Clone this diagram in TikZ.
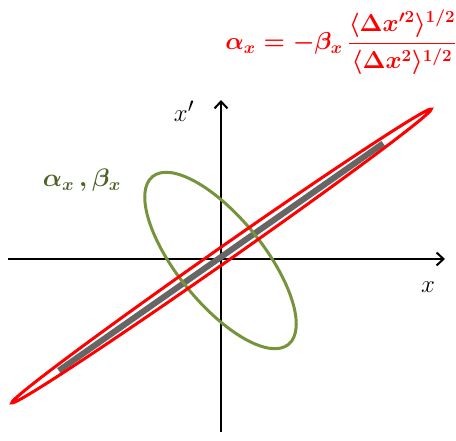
\documentclass[tikz,border=0pt]{standalone}
\usepackage{amsmath}
\usetikzlibrary{arrows.meta}
\definecolor{olivegreen}{RGB}{119,147,60}
\definecolor{darkolive}{RGB}{79,98,40}
\newcommand{\hugebold}{\huge\boldmath}
\begin{document}
\begin{tikzpicture}[x=1pt,y=1pt,
  axis/.style={line width=2pt,-{Straight Barb[length=7pt,width=13pt,line width=2pt]}},
  redell/.style={draw=red,line width=3pt},
  greenell/.style={draw=olivegreen,line width=3pt},
  graybar/.style={draw=black!60,line width=6pt},
  lbl/.style={inner sep=0pt,font=\Huge}]
\useasboundingbox (0,0) rectangle (456,441);
% axes
\coordinate (xs) at (8,182);
\coordinate (xe) at (445,182);
\coordinate (ys) at (221,9);
\coordinate (ye) at (221,341);
\draw[axis] (xs) -- (xe);
\draw[axis] (ys) -- (ye);
% gray bar
\coordinate (g1) at (58.8,70.4);
\coordinate (g2) at (383.2,297.6);
\draw[graybar] (g1) -- (g2);
% green ellipse
\draw[greenell] (220.5,180.5) ellipse[x radius=108,y radius=43,rotate=-51];
% red ellipse
\draw[redell] (221.5,185) ellipse[x radius=256,y radius=7.5,rotate=35];
% labels
\node[lbl] (xp) at (184,330) {$x'$};
\node[lbl] (xl) at (428,154) {$x$};
\node[inner sep=0pt,text=darkolive,font=\hugebold,scale=1.22,transform shape] (ab) at (82,261) {$\alpha_x\,,\beta_x$};
\node[inner sep=0pt,text=red,font=\hugebold,scale=1.18,transform shape] (formula) at (341,399) {$\alpha_x=-\beta_x\,\dfrac{\langle\mathbf{\Delta}x'^2\rangle^{1/2}}{\langle\mathbf{\Delta}x^2\rangle^{1/2}}$};
\end{tikzpicture}
\end{document}
